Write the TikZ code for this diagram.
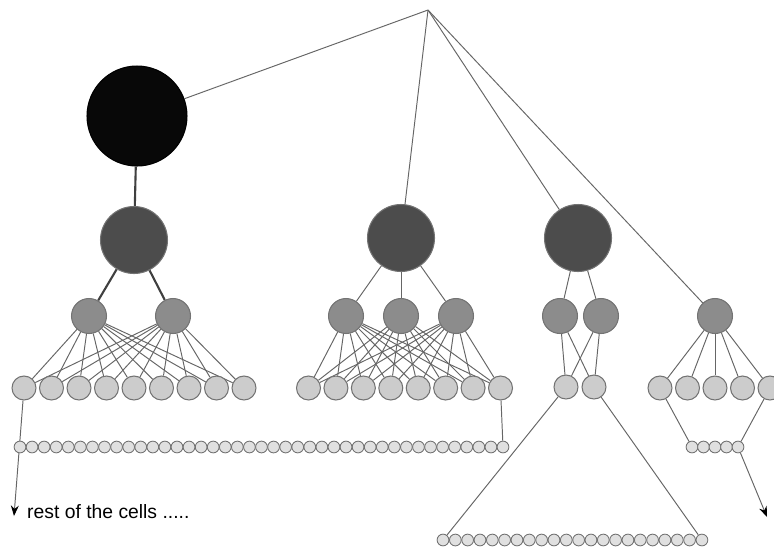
\documentclass[tikz,border=0pt]{standalone}
\usepackage{fontspec}
\setmainfont{Liberation Sans}
\usetikzlibrary{arrows.meta}
\pgfdeclarelayer{bg}
\pgfsetlayers{bg,main}

\begin{document}
\begin{tikzpicture}[x=.02cm,y=-.02cm,>={Stealth[length=6pt,width=4.5pt,black]}]
\tikzset{ball/.style={circle,inner sep=0pt,draw=black!55,line width=.6pt},
blackball/.style={ball,fill=black!97,draw=black,minimum size=2cm},
hubball/.style={ball,fill=black!70,minimum size=1.34cm},
midball/.style={ball,fill=black!45,minimum size=.7cm},
leafball/.style={ball,fill=black!20,minimum size=.48cm},
bead/.style={ball,fill=black!12,minimum size=.235cm,line width=.5pt},
wire/.style={draw=black!60,line width=.55pt},
boldwire/.style={draw=black!75,line width=1.2pt}}
\useasboundingbox (0,0) rectangle (774,552);
\coordinate (root) at (428,10);
\coordinate (tipA) at (14,516);
\coordinate (tipD) at (767,517);
% top cell and hubs
\node[blackball] (cell0) at (137,116) {};
\node[hubball] (hA) at (134,240) {};
\node[hubball] (hB) at (401,238) {};
\node[hubball] (hC) at (578,238) {};
% middle level
\node[midball] (uA1) at (89,316) {};
\node[midball] (uA2) at (173,316) {};
\foreach \i/\x in {1/346,2/401,3/456}{\node[midball] (uB\i) at (\x,316) {};}
\node[midball] (uC1) at (560,316) {};
\node[midball] (uC2) at (601,316) {};
\node[midball] (uD) at (715,316) {};
% leaves
\foreach \i in {1,...,9}{\node[leafball] (lA\i) at ({24+27.5*(\i-1)},388) {};}
\foreach \i in {1,...,8}{\node[leafball] (lB\i) at ({308.5+27.43*(\i-1)},388) {};}
\node[leafball] (lC1) at (566,387) {};
\node[leafball] (lC2) at (594,387) {};
\foreach \i in {1,...,5}{\node[leafball] (lD\i) at ({660+27.5*(\i-1)},388) {};}
% bead rows
\foreach \i in {1,...,41}{\node[bead] (bA\i) at ({20+12.075*(\i-1)},447) {};}
\foreach \i in {1,...,22}{\node[bead] (bC\i) at ({443+12.33*(\i-1)},540) {};}
\foreach \i in {1,...,5}{\node[bead] (bD\i) at ({692+11.5*(\i-1)},447) {};}
\node[anchor=base west,font=\fontsize{11}{13}\selectfont] (rest) at (21,518) {rest of the cells .....};
% connectors
\begin{pgfonlayer}{bg}
\draw[wire] (root)--(cell0);
\draw[wire] (root)--(hB);
\draw[wire] (root)--(hC);
\draw[wire] (root)--(uD);
\draw[boldwire] (cell0)--(hA);
\draw[boldwire] (hA)--(uA1);
\draw[boldwire] (hA)--(uA2);
\foreach \u in {1,2}{\foreach \l in {1,...,9}{\draw[wire] (uA\u)--(lA\l);}}
\foreach \u in {1,2,3}{\draw[wire] (hB)--(uB\u);
 \foreach \l in {1,...,8}{\draw[wire] (uB\u)--(lB\l);}}
\foreach \u in {1,2}{\draw[wire] (hC)--(uC\u);
 \foreach \l in {1,2}{\draw[wire] (uC\u)--(lC\l);}}
\foreach \l in {1,...,5}{\draw[wire] (uD)--(lD\l);}
\draw[wire,->] (lA1)--(tipA);
\draw[wire] (lB8)--(bA41);
\draw[wire] (lC1)--(bC1);
\draw[wire] (lC2)--(bC22);
\draw[wire] (lD1)--(bD1);
\draw[wire] (lD5)--(bD5);
\draw[wire,->] (bD5)--(tipD);
\end{pgfonlayer}
\end{tikzpicture}
\end{document}
